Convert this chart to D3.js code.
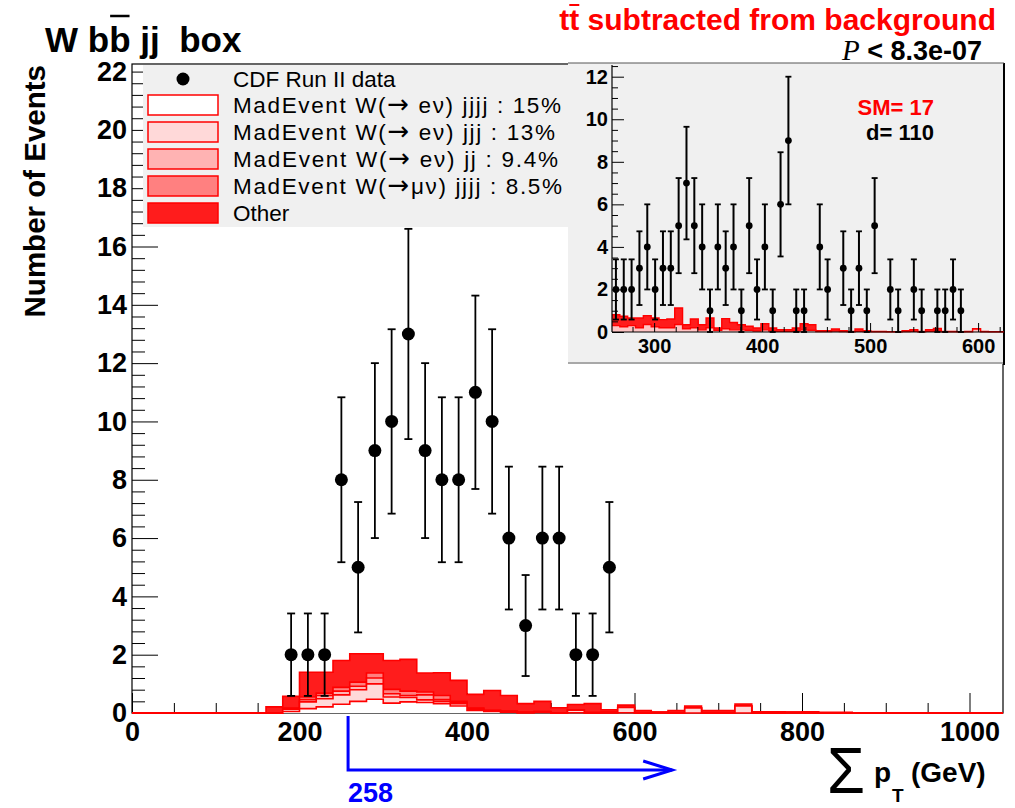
<!DOCTYPE html>
<html>
<head>
<meta charset="utf-8">
<script src="https://cdn.jsdelivr.net/npm/d3@7"></script>
<style>
  body { margin: 0; background: #fff; }
  svg { display: block; }
  text { font-family: "Liberation Sans", Arial, Helvetica, sans-serif; }
</style>
</head>
<body>
<svg id="chart" width="1015" height="808"></svg>
<script>
// ---- Main histogram: sum pT, 20 GeV bins from 0 to 1040 GeV ----
const binLow = 0;
const binWidth = 20;

// CDF data (bin centres in GeV, event counts)
const dataCenters = [190, 210, 230, 250, 270, 290, 310, 330, 350, 370, 390, 410, 430, 450, 470, 490, 510, 530, 550, 570];
const dataCounts  = [2, 2, 2, 8, 5, 9, 10, 13, 9, 8, 8, 11, 10, 6, 3, 6, 6, 2, 2, 5];

// Background components per 20 GeV bin (stacked bottom to top)
const bgWenu4j  = [0,0,0,0,0,0,0,0, 0,.05,.15,.21,.30,.40,.47,.34,.38,.36,.32,.24,.09,.05,.03,.01,.02,0,.01,0,0,.01, 0,0,0,0,0,0,0,0,0,0,0,0,0,0,0,0,0,0,0,0,0,0];
const bgWenu3j  = [0,0,0,0,0,0,0,0, 0,.08,.23,.28,.32,.40,.53,.21,.15,.09,.08,.08,.03,.02,.02,.01,.02,.01,.09,.01,.02,.18,0,.02,0,.17,0,0,.24,0,0,.02, 0,0,0,0,0,0,0,0,0,0,0,0];
const bgWenu2j  = [0,0,0,0,0,0,0,0, 0,.02,.08,.11,.13,.12,.20,.11,.07,.17,.06,.04,.03,.01,.01,0,.01,0,.01,0, 0,0,0,0,0,0,0,0,0,0,0,0,0,0,0,0,0,0,0,0,0,0,0,0];
const bgWmunu4j = [0,0,0,0,0,0,0,0, 0,.02,.09,.08,.13,.14,.17,.15,.15,.10,.14,.04,.02,.01,.01,0,0,0,0,.01, 0,0,0,0,0,0,0,0,0,0,0,0,0,0,0,0,0,0,0,0,0,0,0,0];
const bgOther   = [0,0,0,0,0,0,0,0, .21,.40,.85,.72,.92,.97,.66,.99,1.09,.65,.78,.72,.47,.68,.53,.30,.35,.17,.18,.30,.09,.08,.08,0,.08,.07,.08,.08,.07,.04,.04,0,.04,.02,.02,.01, 0,0,0,0,0,0,0,0];

// Axis tick values
const xMajorTicks = [0, 200, 400, 600, 800, 1000];
const yMajorTicks = [0, 2, 4, 6, 8, 10, 12, 14, 16, 18, 20, 22];

// Legend entries
const legendLabels = [
  "MadEvent W(\u2192 e\u03bd) jjjj : 15%",
  "MadEvent W(\u2192 e\u03bd) jjj : 13%",
  "MadEvent W(\u2192 e\u03bd) jj : 9.4%",
  "MadEvent W(\u2192\u03bc\u03bd) jjjj : 8.5%",
  "Other"
];

// ---- Inset: finer binning, 50 bins from 261 to 624 GeV ----
const insetLow = 261;
const insetBinWidth = 7.26;
const insetCounts = [2,2,2,3,4,2,3,3,5,7,5,4,1,4,3,4,1,5,2,4,1,6,9,1,1,0,4,2,0,3,1,3,1,5,0,2,1,0,2,1,0,1,1,2,1,0,0,0,0,0];
const insetWjets = [.30,.25,.30,.20,.35,.25,.20,.20,.35,.15,.20,.10,.20,.08,.15,.10,.10,.08,.05,.10,.05,.03,.03,.05,.10,.08,.02,.02,.04,.02,.01,.03,.02,.01,.01,.01,.01,.02,.03,.01,.03,.05,.01,.01,.01,.01,.14,.01,.01,.01];
const insetOther = [.51,.49,.36,.46,.42,.41,.38,.41,.78,.19,.41,.24,.46,.11,.48,.35,.24,.19,.14,.29,.14,.08,.08,.14,.29,.26,.04,.04,.10,.04,.02,.11,.04,.02,.02,.01,.01,.04,.08,.02,.08,.12,.02,.02,.01,.02,.02,.02,.01,.01];
const insetXTicks = [300, 400, 500, 600];
const insetYTicks = [0, 2, 4, 6, 8, 10, 12];
const insetSM = 17;
const insetData = 110;

// Selection cut and significance
const cutValue = 258;
const arrowEnd = 645;
const pValue = "8.3e-07";

// ---------------------------------------------------------------
const svg = d3.select("#chart");
svg.append("rect").attr("width", 1015).attr("height", 808).attr("fill", "#fff");

const x = d3.scaleLinear().domain([0, 1040]).range([132, 1003]);
const y = d3.scaleLinear().domain([0, 22.26]).range([713, 64]);

const fillColors = ["#ffffff", "#ffd9d9", "#ffb3b3", "#ff8080", "#ff1c1c"];
const lineRed = "#ff0000";

function cumulative(layers) {
  const out = [];
  let run = layers[0].map(() => 0);
  layers.forEach(L => { run = run.map((v, i) => v + L[i]); out.push(run); });
  return out;
}
function stepPoints(vals, lo, w) {
  const p = vals.map((v, i) => [lo + i * w, v]);
  p.push([lo + vals.length * w, vals[vals.length - 1]]);
  return p;
}

// ---- main axes ----
const axisG = svg.append("g");
function styleAxis(g, size) {
  g.selectAll("text")
    .attr("font-family", "Liberation Sans, Arial, sans-serif")
    .attr("font-weight", "bold")
    .attr("font-size", size)
    .attr("fill", "#000");
  g.selectAll("line").attr("stroke", "#000").attr("stroke-width", 1);
  g.select(".domain").remove();
}
const xMinor = d3.range(0, 1041, 50).filter(v => v % 200 !== 0);
const yMinor = d3.range(0, 22.26, 0.4).filter(v => Math.abs(v / 2 - Math.round(v / 2)) > 1e-6);

axisG.append("g").attr("transform", "translate(0,713)")
  .call(d3.axisBottom(x).tickValues(xMinor).tickSize(-10).tickFormat(() => ""))
  .call(g => styleAxis(g, 27));
axisG.append("g").attr("transform", "translate(0,713)")
  .call(d3.axisBottom(x).tickValues(xMajorTicks).tickSize(-20).tickPadding(9).tickFormat(d3.format("d")))
  .call(g => styleAxis(g, 27));
axisG.append("g").attr("transform", "translate(132,0)")
  .call(d3.axisLeft(y).tickValues(yMinor).tickSize(-13).tickFormat(() => ""))
  .call(g => styleAxis(g, 27));
axisG.append("g").attr("transform", "translate(132,0)")
  .call(d3.axisLeft(y).tickValues(yMajorTicks).tickSize(-26).tickPadding(5).tickFormat(d3.format("d")))
  .call(g => styleAxis(g, 27));

// frame
svg.append("rect").attr("x", 132).attr("y", 64).attr("width", 871).attr("height", 649)
  .attr("fill", "none").attr("stroke", "#000").attr("stroke-width", 1.2);

// ---- stacked background ----
const mainCum = cumulative([bgWenu4j, bgWenu3j, bgWenu2j, bgWmunu4j, bgOther]);
const area = d3.area().x(d => x(d[0])).y0(y(0)).y1(d => y(d[1])).curve(d3.curveStepAfter);
const line = d3.line().x(d => x(d[0])).y(d => y(d[1])).curve(d3.curveStepAfter);
const histG = svg.append("g");
for (let k = mainCum.length - 1; k >= 0; k--) {
  const pts = stepPoints(mainCum[k], binLow, binWidth);
  histG.append("path").attr("d", area(pts)).attr("fill", fillColors[k]);
  histG.append("path").attr("d", line(pts)).attr("fill", "none")
    .attr("stroke", lineRed).attr("stroke-width", 1.6);
}

// ---- data points ----
const dataG = svg.append("g");
dataCenters.forEach((c, i) => {
  const n = dataCounts[i];
  const e = Math.sqrt(n);
  const cx = x(c), lo = y(Math.max(0, n - e)), hi = y(n + e);
  dataG.append("line").attr("x1", cx).attr("x2", cx).attr("y1", lo).attr("y2", hi)
    .attr("stroke", "#000").attr("stroke-width", 1.8);
  [lo, hi].forEach(yy => dataG.append("line").attr("x1", cx - 4).attr("x2", cx + 4)
    .attr("y1", yy).attr("y2", yy).attr("stroke", "#000").attr("stroke-width", 1.8));
  dataG.append("circle").attr("cx", cx).attr("cy", y(n)).attr("r", 6.5).attr("fill", "#000");
});

// ---- legend ----
const leg = svg.append("g");
leg.append("rect").attr("x", 143).attr("y", 65).attr("width", 425).attr("height", 162).attr("fill", "#f0f0f0");
leg.append("circle").attr("cx", 183).attr("cy", 79).attr("r", 6.5).attr("fill", "#000");
leg.append("text").attr("x", 233).attr("y", 87).attr("font-size", 22.5).text("CDF Run II data");
const legendWidths = [328, 322, 325, 329, null];
legendLabels.forEach((lab, i) => {
  const cy = 105 + i * 27;
  leg.append("rect").attr("x", 148).attr("y", cy - 10).attr("width", 70).attr("height", 20)
    .attr("fill", fillColors[i]).attr("stroke", lineRed).attr("stroke-width", 1.5);
  const t = leg.append("text").attr("x", 233).attr("y", cy + 8).attr("font-size", 22.5)
    .style("white-space", "pre");
  if (legendWidths[i]) t.attr("textLength", legendWidths[i]).attr("lengthAdjust", "spacing");
  // the arrow glyph is taken from DejaVu Sans, which draws it full width
  lab.split("\u2192").forEach((part, j) => {
    if (j > 0) t.append("tspan").attr("font-family", "DejaVu Sans").attr("font-size", 26).text("\u2192");
    t.append("tspan").text(part);
  });
});

// ---- inset pad ----
const ix = d3.scaleLinear().domain([261, 624]).range([612, 1004]);
const iy = d3.scaleLinear().domain([0, 12.55]).range([332, 65]);
const inset = svg.append("g");
inset.append("rect").attr("x", 568).attr("y", 63).attr("width", 436).attr("height", 300).attr("fill", "#f0f0f0");
inset.append("line").attr("x1", 568).attr("x2", 1004).attr("y1", 363).attr("y2", 363)
  .attr("stroke", "#a8a8a8").attr("stroke-width", 2);
inset.append("line").attr("x1", 1004).attr("x2", 1004).attr("y1", 63).attr("y2", 365)
  .attr("stroke", "#000").attr("stroke-width", 2);
inset.append("line").attr("x1", 568).attr("x2", 1004).attr("y1", 63).attr("y2", 63)
  .attr("stroke", "#555").attr("stroke-width", 1);

const insetCum = cumulative([insetWjets, insetOther]);
const iArea = d3.area().x(d => ix(d[0])).y0(iy(0)).y1(d => iy(d[1])).curve(d3.curveStepAfter);
const iLine = d3.line().x(d => ix(d[0])).y(d => iy(d[1])).curve(d3.curveStepAfter);
const insetFills = ["#ffc4c4", "#ff1c1c"];
for (let k = insetCum.length - 1; k >= 0; k--) {
  const pts = stepPoints(insetCum[k], insetLow, insetBinWidth);
  inset.append("path").attr("d", iArea(pts)).attr("fill", insetFills[k]);
  inset.append("path").attr("d", iLine(pts)).attr("fill", "none")
    .attr("stroke", lineRed).attr("stroke-width", 1.4);
}

const ixMinor = d3.range(280, 624, 20).filter(v => v % 100 !== 0);
const iyMinor = d3.range(0, 12.55, 0.5).filter(v => v % 2 !== 0);
inset.append("g").attr("transform", "translate(0,332)")
  .call(d3.axisBottom(ix).tickValues(ixMinor).tickSize(-5).tickFormat(() => ""))
  .call(g => styleAxis(g, 20));
inset.append("g").attr("transform", "translate(0,332)")
  .call(d3.axisBottom(ix).tickValues(insetXTicks).tickSize(-9).tickPadding(7).tickFormat(d3.format("d")))
  .call(g => styleAxis(g, 20));
inset.append("g").attr("transform", "translate(612,0)")
  .call(d3.axisLeft(iy).tickValues(iyMinor).tickSize(-6).tickFormat(() => ""))
  .call(g => styleAxis(g, 20));
inset.append("g").attr("transform", "translate(612,0)")
  .call(d3.axisLeft(iy).tickValues(insetYTicks).tickSize(-12).tickPadding(4).tickFormat(d3.format("d")))
  .call(g => styleAxis(g, 20));
inset.append("line").attr("x1", 612).attr("x2", 612).attr("y1", 65).attr("y2", 332).attr("stroke", "#000").attr("stroke-width", 1.2);
inset.append("line").attr("x1", 612).attr("x2", 1004).attr("y1", 332).attr("y2", 332).attr("stroke", "#000").attr("stroke-width", 1.2);

insetCounts.forEach((n, i) => {
  if (n <= 0) return;
  const c = insetLow + (i + 0.5) * insetBinWidth;
  const e = Math.sqrt(n);
  const cx = ix(c), lo = iy(Math.max(0, n - e)), hi = iy(n + e);
  inset.append("line").attr("x1", cx).attr("x2", cx).attr("y1", lo).attr("y2", hi)
    .attr("stroke", "#000").attr("stroke-width", 2);
  [lo, hi].forEach(yy => inset.append("line").attr("x1", cx - 3).attr("x2", cx + 3)
    .attr("y1", yy).attr("y2", yy).attr("stroke", "#000").attr("stroke-width", 1.8));
  inset.append("circle").attr("cx", cx).attr("cy", iy(n)).attr("r", 3.4).attr("fill", "#000");
});

inset.append("text").attr("x", 934).attr("y", 115).attr("text-anchor", "end")
  .attr("font-size", 22).attr("font-weight", "bold").attr("fill", "#ff0000").text("SM= " + insetSM);
inset.append("text").attr("x", 934).attr("y", 140).attr("text-anchor", "end")
  .attr("font-size", 22).attr("font-weight", "bold").attr("fill", "#000").text("d= " + insetData);

// ---- titles ----
const title = svg.append("text").attr("x", 45).attr("y", 52).attr("font-size", 35)
  .attr("font-weight", "bold").style("white-space", "pre").text("W bb jj  box");
{
  const ext = title.node().getExtentOfChar(3);
  svg.append("line").attr("x1", ext.x + 1).attr("x2", ext.x + ext.width - 1)
    .attr("y1", 16).attr("y2", 16).attr("stroke", "#000").attr("stroke-width", 2.5);
}
const redTitle = svg.append("text").attr("x", 996).attr("y", 30).attr("text-anchor", "end")
  .attr("font-size", 30).attr("font-weight", "bold").attr("fill", "#ff0000")
  .text("tt subtracted from background");
{
  const ext = redTitle.node().getExtentOfChar(1);
  svg.append("line").attr("x1", ext.x).attr("x2", ext.x + ext.width)
    .attr("y1", 5).attr("y2", 5).attr("stroke", "#ff0000").attr("stroke-width", 2);
}
const pText = svg.append("text").attr("x", 982).attr("y", 60).attr("text-anchor", "end").attr("font-size", 27);
pText.append("tspan").attr("font-family", "Liberation Serif, Times New Roman, serif")
  .attr("font-style", "italic").attr("font-size", 29).text("P");
pText.append("tspan").attr("font-weight", "bold").text(" < " + pValue);

// y title
svg.append("text").attr("transform", "translate(45,65) rotate(-90)").attr("text-anchor", "end")
  .attr("font-size", 29.5).attr("font-weight", "bold").text("Number of Events");

// x title
svg.append("text").attr("x", 827).attr("y", 793).attr("font-family", "Liberation Serif, Times New Roman, serif")
  .attr("font-size", 64).attr("textLength", 38).attr("lengthAdjust", "spacingAndGlyphs").text("\u03a3");
svg.append("text").attr("x", 874).attr("y", 782).attr("font-size", 28).attr("font-weight", "bold").text("p");
svg.append("text").attr("x", 892).attr("y", 802).attr("font-size", 19).attr("font-weight", "bold").text("T");
svg.append("text").attr("x", 911).attr("y", 782).attr("font-size", 28).attr("font-weight", "bold").text("(GeV)");

// ---- cut arrow ----
const blue = "#0000ff";
const ay = 770;
svg.append("path")
  .attr("d", `M${x(cutValue)},716 V${ay} H${x(arrowEnd)}`)
  .attr("fill", "none").attr("stroke", blue).attr("stroke-width", 3);
svg.append("path")
  .attr("d", `M${x(arrowEnd) - 29},${ay - 9} L${x(arrowEnd)},${ay} L${x(arrowEnd) - 29},${ay + 9}`)
  .attr("fill", "none").attr("stroke", blue).attr("stroke-width", 3);
svg.append("text").attr("x", x(cutValue)).attr("y", 802).attr("font-size", 27)
  .attr("font-weight", "bold").attr("fill", blue).text(String(cutValue));
</script>
</body>
</html>
